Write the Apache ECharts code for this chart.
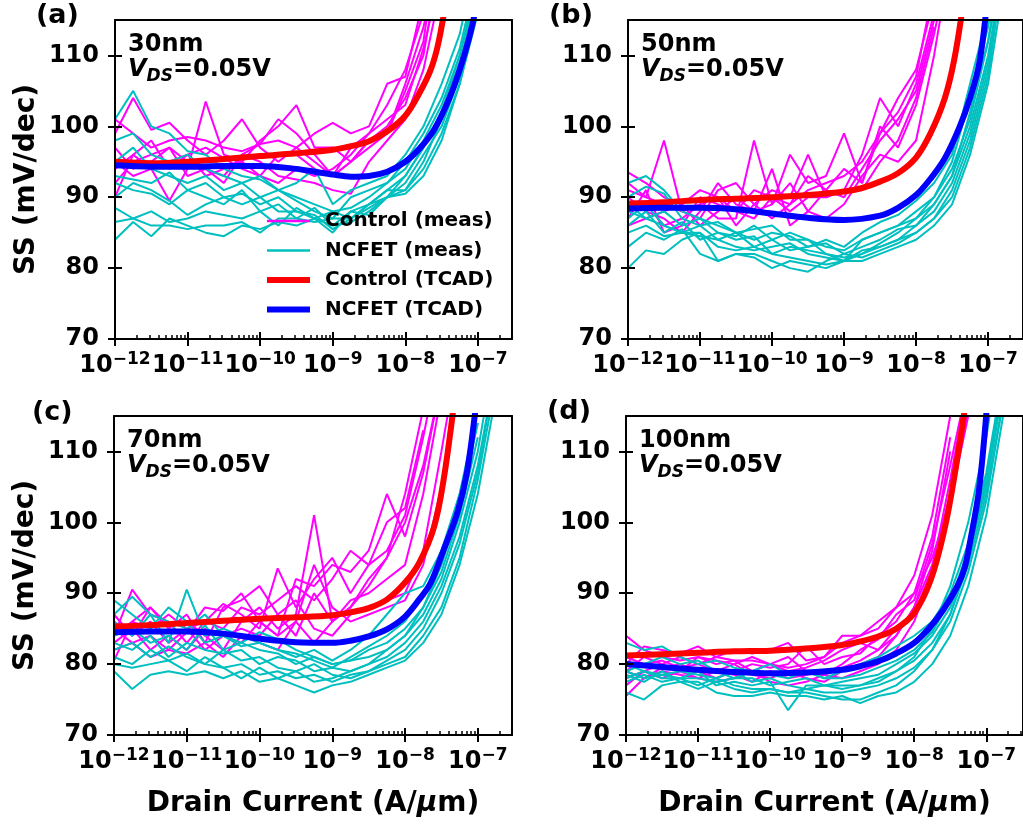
<!DOCTYPE html>
<html><head><meta charset="utf-8">
<script src="https://cdn.jsdelivr.net/npm/echarts@6/dist/echarts.min.js"></script>
<style>html,body{margin:0;padding:0;background:#fff}#c{width:1023px;height:825px}</style>
</head><body><div id="c"></div>
<script>
// ---------- DATA (x = log10 of drain current in A/um, y = SS in mV/dec) ----------
const logI = [-12, -11.75, -11.5, -11.25, -11, -10.75, -10.5, -10.25, -10, -9.75, -9.5, -9.25, -9, -8.75, -8.5, -8.25, -8, -7.75, -7.5, -7.25, -7, -6.75];
const xTickExp = [-12, -11, -10, -9, -8, -7];
const yTicks = [70, 80, 90, 100, 110];
const panelLabels = ['(a)', '(b)', '(c)', '(d)'];
const gateLengths = ['30nm', '50nm', '70nm', '100nm'];
const legendNames = ['Control (meas)', 'NCFET (meas)', 'Control (TCAD)', 'NCFET (TCAD)'];

// (a) 30nm
const ctlMeasA = [
  [101, 99, 97, 98, 98.5, 98, 97, 96.5, 97.5, 98, 97, 95, 93, 95, 98, 100, 104, 110, 125],
  [90, 96, 98, 94, 96, 97, 95.5, 94, 93, 96, 96, 94, 93, 97, 99, 103, 108, 116],
  [99, 104, 99.5, 100.5, 98, 96, 98, 101, 97, 95, 97, 99, 100.5, 99, 100, 106, 107, 118],
  [95, 93, 94, 89.5, 94, 103.5, 96, 95, 98, 100, 103, 97, 97, 95, 98, 99, 105, 112, 130],
  [92, 95, 96, 97, 93, 94, 92, 96, 95, 93, 92.5, 92, 91, 90.5, 95, 98, 101, 108, 120],
  [97, 94, 95, 97, 95, 94, 93, 96, 97.5, 101, 99, 96, 93, 95, 97, 99, 106, 114, 125],
  [94, 96, 94, 95, 96, 93, 94, 95, 93, 92, 94, 93, 94, 96, 99, 101, 103, 111, 122]
];
const ncMeasA = [
  [101, 105, 100, 99, 96.5, 96, 94, 93, 92.5, 91, 90, 89, 88, 88.5, 90, 92, 95, 99, 104, 111, 122],
  [98, 99, 96, 95, 96, 94, 93, 92, 93, 91, 92, 94, 89, 91, 92, 93, 96, 100, 106, 113, 125],
  [95, 97, 94, 93, 92, 93, 91, 92, 90, 91, 89.5, 88, 87, 90, 91, 92, 94, 98, 103, 110, 120],
  [93, 92.5, 92, 93.5, 91, 92, 90, 90.5, 89, 90, 88, 87, 88, 87, 89, 90, 93, 97, 102, 109, 119],
  [92, 91, 90.5, 89, 91, 90, 89, 91, 88, 89, 87, 88.5, 86, 88, 87.5, 90, 92, 96, 100, 107, 118],
  [90, 92, 91, 89.5, 87.5, 89, 90, 89, 90, 88, 88, 87.5, 85.5, 87, 89, 91, 91, 94, 99, 106, 117],
  [88.5, 87, 88, 86.5, 87, 88, 87.5, 87, 88, 86, 88.5, 87, 86, 86.5, 88, 90, 90.5, 93, 98, 106, 116],
  [86.5, 87, 86, 86, 85.5, 86, 86, 86.5, 85, 87, 87, 86.5, 87, 87, 88.5, 90, 91, 95, 101, 108, 120],
  [84, 86.5, 84.5, 87, 86, 85, 84.5, 86, 85.5, 86.5, 86, 87, 85, 88, 89, 91, 93, 97, 102, 110, 121]
];
const ctlTcadAx = [-12, -11.5, -11, -10.5, -10, -9.5, -9, -8.75, -8.5, -8.25, -8, -7.8, -7.65, -7.55, -7.45];
const ctlTcadAy = [95.0, 94.8, 95.0, 95.4, 95.8, 96.2, 96.7, 97.2, 97.9, 99.3, 101.5, 104.8, 108, 111.5, 117];
const ncTcadAx = [-12, -11.5, -11, -10.5, -10, -9.5, -9.25, -9, -8.75, -8.5, -8.25, -8, -7.8, -7.6, -7.4, -7.25, -7.12, -7.02];
const ncTcadAy = [94.5, 94.3, 94.3, 94.4, 94.4, 94.0, 93.6, 93.2, 92.9, 93.0, 93.6, 95.0, 96.9, 99.6, 103.8, 108, 112.5, 117];

// (b) 50nm
const ctlMeasB = [
  [93.5, 92, 90, 89, 91, 90, 88, 91, 90, 89, 91, 92, 93, 95, 99, 104, 108, 118],
  [91, 90, 98, 88, 87, 91, 92, 89, 87, 89, 93, 91, 90, 94, 98, 101, 105, 115],
  [88, 89, 86, 87, 89, 87, 87, 98, 89, 96, 92, 93, 99, 92, 100, 97, 103, 113, 125],
  [87, 91, 85, 86, 90, 89, 88, 87, 90, 88, 90, 90, 91, 96, 104, 100, 106, 116],
  [90, 88, 87, 85, 88, 92, 89, 88, 94, 86, 88, 91, 94, 92, 99, 102, 107, 120],
  [86, 87, 88, 89, 86, 88, 90, 88, 89, 92, 88, 87, 89, 93, 96, 95, 98, 110, 125],
  [92, 90, 89, 88, 89, 90, 86, 89, 91, 90, 96, 90, 91, 91, 95, 98, 104, 114]
];
const ncMeasB = [
  [92, 93, 91, 88, 87, 86, 85, 85.5, 86, 84, 84, 83, 82.5, 84, 85, 86, 88, 90, 94, 101, 112, 125],
  [90, 91.5, 90.5, 87, 86, 86.5, 85, 84, 85, 84.5, 83, 84, 83, 85, 86.5, 87.5, 89.5, 92, 96, 106, 116],
  [88, 87, 88, 86, 87, 85, 84.5, 86, 84, 85, 84, 82, 81, 84, 85, 86, 87, 89, 93, 100, 110, 125],
  [87, 89, 86, 85, 86, 84, 85, 83, 84, 82.5, 83, 83.5, 82, 83, 84, 85.5, 86, 88, 92, 99, 109, 125],
  [86, 88, 85, 86.5, 84, 85, 84, 84.5, 82, 83, 82.5, 82, 81.5, 82, 83.5, 85, 87, 90, 95, 104, 114, 130],
  [89, 87, 86, 85, 84.5, 84, 83, 82.5, 83, 83.5, 82, 81.5, 81, 82, 83, 84, 85, 87, 90, 97, 107, 125],
  [85, 86, 84.5, 85, 85, 83, 82.5, 83, 82, 81.5, 81, 80.5, 81, 82.5, 83, 84, 86, 89, 93, 102, 112, 128],
  [83, 85, 84, 85.5, 82, 81, 82, 82, 81, 80, 79.5, 81, 82, 81.5, 82.5, 83.5, 85, 87, 91, 98, 108, 125],
  [80, 82.5, 82, 84, 85, 81, 82, 81.5, 80, 81, 80.5, 80, 81, 81, 82, 83, 84, 86, 89, 96, 106, 122]
];
const ctlTcadBx = [-12, -11.5, -11, -10.5, -10, -9.5, -9, -8.75, -8.5, -8.25, -8, -7.8, -7.6, -7.47, -7.35];
const ctlTcadBy = [89.1, 89.3, 89.6, 89.8, 90.0, 90.3, 90.8, 91.3, 92.2, 93.4, 95.6, 99.0, 104, 109.4, 117];
const ncTcadBx = [-12, -11.5, -11, -10.5, -10, -9.5, -9, -8.5, -8.25, -8, -7.8, -7.6, -7.4, -7.25, -7.12, -7.02];
const ncTcadBy = [88.4, 88.5, 88.5, 88.3, 87.7, 87.1, 86.8, 87.4, 88.5, 90.3, 92.6, 95.5, 99.8, 104, 109, 117];

// (c) 70nm
const ctlMeasC = [
  [80.5, 86, 88, 85, 87, 83, 88, 89, 91, 87, 84, 90, 86, 88, 92, 95, 100, 108, 120],
  [84, 90.5, 87, 86, 83, 86, 88.5, 87, 85, 93.5, 88, 92, 95, 90, 94, 96, 101, 112, 125],
  [87, 84, 88, 85.5, 86, 84, 82, 86, 88, 85, 87, 101, 86, 88, 91, 95, 104, 116],
  [85, 83, 84, 82, 84.5, 88, 87.5, 90, 86, 84, 92, 91, 94, 93, 96, 104, 98, 107, 120],
  [83, 85, 82, 84, 82, 85, 84, 83, 86, 84, 86, 83, 86, 89, 90, 92, 94, 104, 118],
  [86, 84, 86, 83, 85, 82, 84, 85, 84, 87, 89, 85, 84, 87, 88, 89, 90, 96, 110, 125],
  [82, 83, 81, 82, 81.5, 83, 81, 84, 83, 82, 86, 94, 88, 86, 87, 88, 89, 94, 105, 120],
  [84, 86, 85, 87, 85, 86, 85, 88, 87, 89, 91, 89, 92, 96, 94, 100, 102, 113]
];
const ncMeasC = [
  [89, 87, 85, 88, 86, 83, 84, 82.5, 83, 82, 81, 82, 80.5, 82, 84, 87, 90, 91, 96, 104, 114],
  [87, 89.5, 87, 86, 85, 87, 84, 83, 84.5, 83.5, 82, 81, 80, 80.5, 82, 83, 85, 88, 93, 101, 112],
  [86, 84, 87, 83, 90.5, 84, 85, 84, 83, 82, 81.5, 80.5, 79.5, 81, 82.5, 84, 86, 90, 95, 104, 116],
  [84, 85, 83, 84, 82, 85.5, 82, 83, 82, 81.5, 80, 81, 80, 80.5, 81, 82, 84, 87, 92, 100, 110, 125],
  [83, 82, 84, 81, 83, 82, 81.5, 82, 80, 81, 80.5, 79, 79.5, 79, 80, 81, 83, 86, 91, 98, 108, 122],
  [82, 83, 81, 82.5, 81, 80, 82, 80.5, 81, 79.5, 79, 80, 78.5, 78, 79, 80.5, 82, 85, 90, 97, 107, 122],
  [81, 80, 82, 80.5, 81.5, 80, 79.5, 80, 78.5, 79, 78, 78.5, 77.5, 78.5, 79, 80, 81, 84, 88, 95, 106, 120],
  [79, 76.5, 78.5, 79, 78.5, 79, 78, 79, 77.5, 78, 77, 76, 77, 77.5, 78.5, 79.5, 80.5, 83, 87, 94, 104, 118],
  [80, 79.5, 80, 80.5, 79, 81, 79.5, 78, 79.5, 78, 79, 77.5, 78, 79, 80, 82, 84, 88, 94, 102, 114]
];
const ctlTcadCx = [-12, -11.5, -11, -10.5, -10, -9.5, -9, -8.75, -8.5, -8.25, -8, -7.8, -7.6, -7.47, -7.33];
const ctlTcadCy = [85.3, 85.5, 85.8, 86.1, 86.4, 86.6, 86.9, 87.3, 87.9, 89.1, 91.5, 94.4, 99.4, 106, 116.5];
const ncTcadCx = [-12, -11.5, -11, -10.5, -10, -9.5, -9, -8.75, -8.5, -8.25, -8, -7.8, -7.65, -7.47, -7.28, -7.15, -7.02];
const ncTcadCy = [84.5, 84.6, 84.6, 84.3, 83.6, 83.1, 83.0, 83.3, 83.9, 84.9, 86.7, 89.2, 91.4, 96.1, 101.4, 107, 117];

// (d) 100nm
const ctlMeasD = [
  [84, 82, 81, 80.5, 81, 80.5, 80, 81, 80, 79.5, 80, 81, 83, 84, 85, 88, 90, 95, 103, 115],
  [75.5, 78, 79, 78.5, 78, 79, 78.5, 77.5, 79, 78, 78.5, 79, 79.5, 80.5, 82, 84, 88, 94, 104, 118],
  [80, 82.5, 82, 81.5, 82.5, 81, 82, 81.5, 82, 83, 80.5, 81, 84, 84, 86, 88, 92.5, 101, 115],
  [78, 79, 80, 79, 81, 80, 80.5, 79, 80, 81, 79, 78.5, 80, 82, 83.5, 87, 89, 97, 108, 120],
  [79, 78, 79.5, 80, 79, 78, 79, 80, 79.5, 80, 82.5, 80, 81, 81.5, 84, 86, 90, 98, 112],
  [81, 80, 80.5, 79.5, 80, 79, 80, 78.5, 78, 79, 78, 77.5, 79, 80, 81, 84, 88, 96, 110],
  [77, 79, 78, 79, 78, 77.5, 78, 79, 77.5, 77, 77.5, 78.5, 78, 79, 80, 82, 86, 93, 103, 116],
  [79, 81, 80, 81, 80, 81, 80.5, 80.5, 80, 79, 79.5, 80.5, 82, 83, 82, 85, 87, 93.5, 106, 120]
];
const ncMeasD = [
  [83, 82, 82.5, 81, 80, 80.5, 79.5, 79, 80, 78.5, 79, 78, 79, 80, 81, 82.5, 84, 86, 90, 97, 107, 122],
  [79, 80, 81, 80, 80.5, 79, 78, 79, 78.5, 78, 79, 78, 78, 78.5, 79.5, 80.5, 82, 84.5, 89, 96, 106, 120],
  [78, 79, 78.5, 79, 78.5, 78, 79, 77.5, 78, 77, 76.5, 77, 77.5, 78, 78.5, 80, 81.5, 84, 88, 95, 105, 120],
  [77.5, 78.5, 77.5, 78, 79, 77, 77.5, 77, 77.5, 73.5, 77, 77, 76.5, 77, 77.5, 79, 80.5, 83, 87, 94, 104, 118],
  [76, 75, 77, 77.5, 76.5, 77.5, 76.5, 76, 76.5, 76, 76.5, 76, 76, 76.5, 77, 78, 79.5, 82, 86, 93, 103, 118],
  [80, 79, 78, 78, 78, 77.5, 78, 78, 77, 77.5, 78, 77, 77, 77, 78, 79, 81, 85, 91, 100, 112, 128],
  [78.5, 77.5, 79, 77.5, 77.5, 76, 75.5, 75.5, 76, 75.5, 75.5, 75, 75.5, 74.5, 75.5, 76, 77.5, 80, 84, 91, 101, 116],
  [79, 78, 78.5, 78, 77, 78, 77, 76.5, 76.5, 76, 76, 75.5, 75, 75, 76, 77, 79, 82, 87, 95, 106, 122]
];
const ctlTcadDx = [-12, -11.5, -11, -10.5, -10, -9.5, -9, -8.75, -8.5, -8.25, -8, -7.77, -7.58, -7.45, -7.29];
const ctlTcadDy = [81.2, 81.4, 81.6, 81.8, 81.9, 82.2, 82.7, 83.2, 83.9, 85.0, 87.2, 91.9, 99, 106, 116.5];
const ncTcadDx = [-12, -11.5, -11, -10.5, -10, -9.5, -9, -8.75, -8.5, -8.25, -8, -7.8, -7.6, -7.4, -7.3, -7.22, -7.1, -6.99];
const ncTcadDy = [80.0, 79.6, 79.2, 78.9, 78.7, 78.8, 79.2, 79.7, 80.4, 81.5, 83.0, 85.0, 87.6, 91.0, 93.6, 97.5, 104.6, 116.5];

// ---------- STYLE / LAYOUT ----------
const FONT = 'DejaVu Sans';
const C_MAG = '#ff00ff', C_CYAN = '#00bfbf', C_RED = '#ff0000', C_BLUE = '#0000ff';
const XMIN = -12, XMAX = -6.53, YMIN = 70, YMAX = 115;
const H = 319;
const layout = [
  {left: 115, top: 20, width: 397, lab: [36, 16]},
  {left: 628, top: 20, width: 398, lab: [549, 16]},
  {left: 114, top: 416, width: 398, lab: [32, 413]},
  {left: 626, top: 416, width: 400, lab: [547, 412]}
];
const panels = [
  {ctl: ctlMeasA, nc: ncMeasA, rx: ctlTcadAx, ry: ctlTcadAy, bx: ncTcadAx, by: ncTcadAy},
  {ctl: ctlMeasB, nc: ncMeasB, rx: ctlTcadBx, ry: ctlTcadBy, bx: ncTcadBx, by: ncTcadBy},
  {ctl: ctlMeasC, nc: ncMeasC, rx: ctlTcadCx, ry: ctlTcadCy, bx: ncTcadCx, by: ncTcadCy},
  {ctl: ctlMeasD, nc: ncMeasD, rx: ctlTcadDx, ry: ctlTcadDy, bx: ncTcadDx, by: ncTcadDy}
];
const xMaxOf = [XMAX, -6.515, XMAX, -6.49];

const grids = [], xAxes = [], yAxes = [], series = [], graphics = [];
const blk = '#000';
const hidden = {axisLine: {show: false}, axisTick: {show: false}, axisLabel: {show: false}, splitLine: {show: false}};

layout.forEach((L, p) => {
  const bottomRow = p >= 2, leftCol = p % 2 === 0;
  const xmax = xMaxOf[p];
  const minorExp = [];
  for (let n = -12; n <= -7; n++) {
    for (let k = 2; k <= 9; k++) { const v = n + Math.log10(k); if (v < xmax) minorExp.push(v); }
  }
  grids.push({left: L.left, top: L.top, width: L.width, height: H, show: false});
  const xb = {type: 'value', gridIndex: p, min: XMIN, max: xmax, z: 10, position: 'bottom'};
  xAxes.push(Object.assign({}, xb, hidden, {
    axisLine: {show: true, onZero: false, lineStyle: {color: blk, width: 2}},
    axisTick: {show: true, inside: false, length: 7, customValues: xTickExp, lineStyle: {color: blk, width: 2}},
    axisLabel: {show: true, customValues: xTickExp, margin: 12,
      formatter: v => '{b|10}{s|\u2212' + Math.round(-v) + '}',
      rich: {
        b: {fontFamily: FONT, fontWeight: 'bold', fontSize: 24, lineHeight: 30, color: blk},
        s: {fontFamily: FONT, fontWeight: 'bold', fontSize: 17, lineHeight: 17, verticalAlign: 'top', color: blk}
      }},
    name: bottomRow ? '{n|Drain Current (A/}{m|\u03bc}{n|m)}' : '',
    nameLocation: 'middle', nameGap: 55,
    nameTextStyle: {rich: {
      n: {fontFamily: FONT, fontWeight: 'bold', fontSize: 28, color: blk},
      m: {fontFamily: FONT, fontWeight: 'bold', fontStyle: 'italic', fontSize: 28, color: blk}
    }}
  }));
  xAxes.push(Object.assign({}, xb, hidden, {
    axisTick: {show: true, inside: true, length: 7, customValues: xTickExp, lineStyle: {color: blk, width: 2}}
  }));
  xAxes.push(Object.assign({}, xb, hidden, {
    axisTick: {show: true, inside: true, length: 4, customValues: minorExp, lineStyle: {color: blk, width: 1.5}}
  }));
  xAxes.push(Object.assign({}, xb, hidden, {position: 'top',
    axisLine: {show: true, onZero: false, lineStyle: {color: blk, width: 2}}
  }));

  const yb = {type: 'value', gridIndex: p, min: YMIN, max: YMAX, z: 10, position: 'left'};
  yAxes.push(Object.assign({}, yb, hidden, {
    axisLine: {show: true, onZero: false, lineStyle: {color: blk, width: 2}},
    axisTick: {show: true, inside: false, length: 7, customValues: yTicks, lineStyle: {color: blk, width: 2}},
    axisLabel: {show: true, customValues: yTicks, margin: 16, fontFamily: FONT, fontWeight: 'bold', fontSize: 24, color: blk},
    name: leftCol ? 'SS (mV/dec)' : '', nameLocation: 'middle', nameGap: 74,
    nameTextStyle: {fontFamily: FONT, fontWeight: 'bold', fontSize: 28, color: blk}
  }));
  yAxes.push(Object.assign({}, yb, hidden, {
    axisTick: {show: true, inside: true, length: 7, customValues: yTicks, lineStyle: {color: blk, width: 2}}
  }));
  yAxes.push(Object.assign({}, yb, hidden, {position: 'right',
    axisLine: {show: true, onZero: false, lineStyle: {color: blk, width: 2}}
  }));

  const P = panels[p];
  const base = {type: 'line', xAxisIndex: p * 4, yAxisIndex: p * 3, symbol: 'none', showSymbol: false,
    silent: true, animation: false, clip: true};
  P.ctl.forEach(vals => series.push(Object.assign({}, base, {name: legendNames[0],
    data: vals.map((v, i) => [logI[i], v]), lineStyle: {color: C_MAG, width: 2}, itemStyle: {color: C_MAG}, z: 2})));
  P.nc.forEach(vals => series.push(Object.assign({}, base, {name: legendNames[1],
    data: vals.map((v, i) => [logI[i], v]), lineStyle: {color: C_CYAN, width: 2}, itemStyle: {color: C_CYAN}, z: 3})));
  series.push(Object.assign({}, base, {name: legendNames[2], smooth: 0.35,
    data: P.rx.map((e, i) => [e, P.ry[i]]), lineStyle: {color: C_RED, width: 6}, itemStyle: {color: C_RED}, z: 4}));
  series.push(Object.assign({}, base, {name: legendNames[3], smooth: 0.35,
    data: P.bx.map((e, i) => [e, P.by[i]]), lineStyle: {color: C_BLUE, width: 6}, itemStyle: {color: C_BLUE}, z: 5}));

  graphics.push({type: 'text', x: L.lab[0], y: L.lab[1], z: 20,
    style: {text: panelLabels[p], fill: blk, fontFamily: FONT, fontWeight: 'bold', fontSize: 27, verticalAlign: 'middle', align: 'left'}});
  graphics.push({type: 'text', x: L.left + 13, y: L.top + 25, z: 20,
    style: {text: gateLengths[p], fill: blk, fontFamily: FONT, fontWeight: 'bold', fontSize: 24, verticalAlign: 'middle', align: 'left'}});
  graphics.push({type: 'text', x: L.left + 13, y: L.top + 50, z: 20,
    style: {text: '{v|V}{s|DS}{n|=0.05V}', verticalAlign: 'middle', align: 'left', fill: blk,
      rich: {
        v: {fontFamily: FONT, fontWeight: 'bold', fontStyle: 'italic', fontSize: 24, lineHeight: 30, fill: blk},
        s: {fontFamily: FONT, fontWeight: 'bold', fontStyle: 'italic', fontSize: 17, lineHeight: 17, verticalAlign: 'bottom', fill: blk},
        n: {fontFamily: FONT, fontWeight: 'bold', fontSize: 24, lineHeight: 30, fill: blk}
      }}});
});

const thinIcon = 'path://M0,0H43V2.5H0Z';
const thickIcon = 'path://M0,0H43V6H0Z';
const chart = echarts.init(document.getElementById('c'), null, {renderer: 'canvas'});
chart.setOption({
  backgroundColor: '#ffffff',
  animation: false,
  grid: grids,
  xAxis: xAxes,
  yAxis: yAxes,
  legend: {
    orient: 'vertical', left: 267, top: 211, itemWidth: 43, itemHeight: 14, itemGap: 9.5,
    selectedMode: false, padding: 0, symbolKeepAspect: true,
    data: [
      {name: legendNames[0], icon: thinIcon},
      {name: legendNames[1], icon: thinIcon},
      {name: legendNames[2], icon: thickIcon},
      {name: legendNames[3], icon: thickIcon}
    ],
    textStyle: {fontFamily: FONT, fontWeight: 'bold', fontSize: 20, color: blk, lineHeight: 20, padding: [0, 0, 0, 10]}
  },
  graphic: graphics,
  series: series
});
</script></body></html>
